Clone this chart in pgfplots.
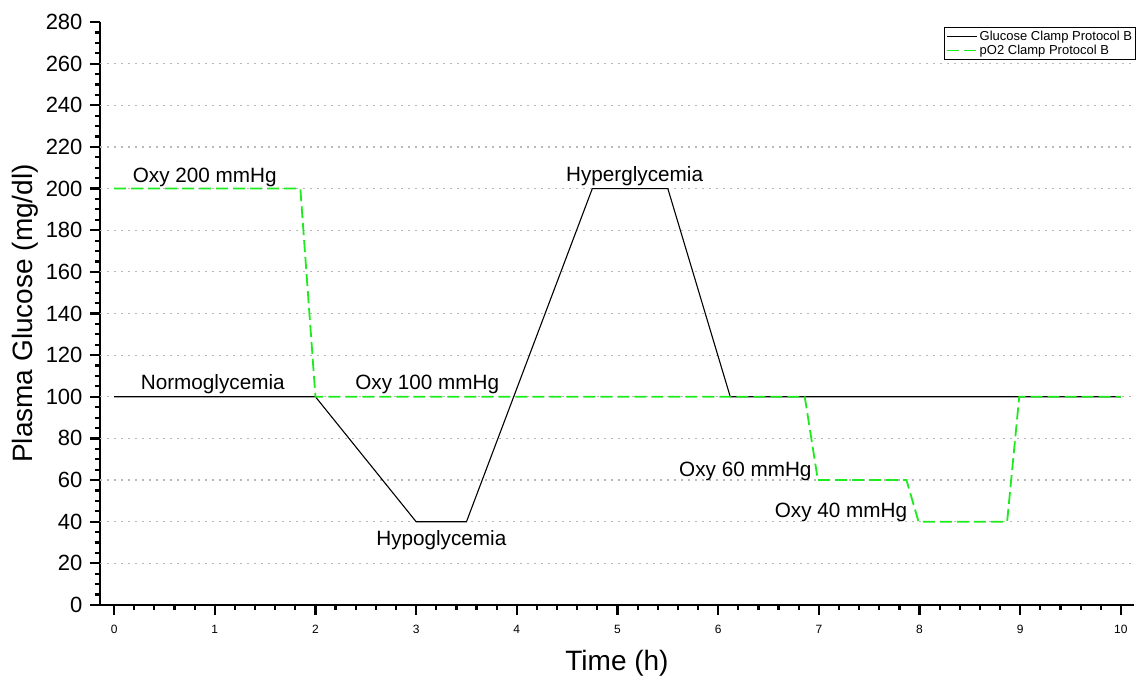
\documentclass[border=0pt]{standalone}
\usepackage{fontspec}
\setmainfont{Liberation Sans}
\usepackage{pgfplots}
\pgfplotsset{compat=1.18}
\definecolor{clampgreen}{RGB}{30,235,30}
\definecolor{gridgray}{RGB}{185,185,185}

\begin{document}
\begin{tikzpicture}
\useasboundingbox (-100pt,-72pt) rectangle (1041pt,605pt);
\begin{axis}[
  at={(0pt,0pt)}, anchor=south west,
  scale only axis, width=1034pt, height=583pt,
  xmin=-0.14, xmax=10.13, ymin=0, ymax=280,
  axis lines*=left,
  axis line style={line width=2.2pt},
  xtick={0,...,10}, minor x tick num=4,
  ytick={0,20,...,280}, minor y tick num=3,
  tick align=outside, tick pos=left,
  major tick length=10pt, minor tick length=5pt,
  every tick/.style={black, line width=2.2pt},
  /pgf/number format/assume math mode=true,
  x tick label style={font=\fontsize{12}{14}\selectfont, yshift=-7pt},
  y tick label style={font=\fontsize{22}{26}\selectfont, xshift=-4pt},
  extra y ticks={20,40,...,260},
  extra y tick labels={},
  extra y tick style={grid=major, major tick length=0pt},
  grid style={gridgray, line width=1.2pt, dash pattern=on 2pt off 5pt},
  xlabel={Time (h)},
  ylabel={Plasma Glucose (mg/dl)},
  xlabel style={font=\fontsize{28}{32}\selectfont, at={(axis description cs:0.5,-0.1132)}, anchor=base},
  ylabel style={font=\fontsize{28}{32}\selectfont, at={(axis description cs:-0.0725,0.5)}, anchor=center, rotate=0},
  legend style={at={(axis description cs:1.002,0.991)}, anchor=north east,
    draw=black, line width=0.8pt, fill=white,
    font=\fontsize{13}{15}\selectfont, inner sep=1.5pt, row sep=-1pt,
    cells={anchor=west}},
  legend image code/.code={\draw[#1] (0pt,0pt) -- (30pt,0pt);},
]
% glucose clamp: normo -> hypo -> hyper -> normo
\addplot[black, line width=1.1pt] coordinates {
  (0,100) (2,100) (3,40) (3.5,40) (4.75,200) (5.5,200) (6.12,100) (10,100)};
\addlegendentry{Glucose Clamp Protocol B}
% oxygen clamp: 200 -> 100 -> 60 -> 40 -> 100 mmHg
\addplot[clampgreen, line width=1.8pt, dash pattern=on 12pt off 5pt] coordinates {
  (0,200) (1.85,200) (2,100) (6.86,100) (6.99,60) (7.87,60) (7.99,40) (8.87,40) (8.99,100) (10,100)};
\addlegendentry{pO2 Clamp Protocol B}

\begin{scope}[every node/.style={anchor=base, font=\fontsize{20.7}{24}\selectfont, inner sep=0pt}]
\node at (axis cs:0.90,202.8) {Oxy 200 mmHg};
\node at (axis cs:0.98,103.4) {Normoglycemia};
\node at (axis cs:3.11,103.4) {Oxy 100 mmHg};
\node at (axis cs:3.25,28.8) {Hypoglycemia};
\node at (axis cs:5.17,203.4) {Hyperglycemia};
\node at (axis cs:6.27,61.6) {Oxy 60 mmHg};
\node at (axis cs:7.22,41.8) {Oxy 40 mmHg};
\end{scope}
\end{axis}
\end{tikzpicture}
\end{document}
